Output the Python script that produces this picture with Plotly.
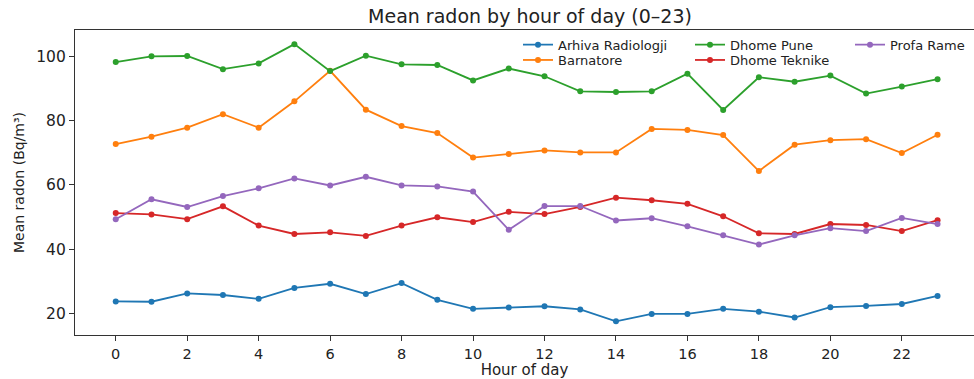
import plotly.graph_objects as go

hours = list(range(24))
series_names = ["Arhiva Radiologji", "Barnatore", "Dhome Pune", "Dhome Teknike", "Profa Rame"]
arhiva = [23.7, 23.6, 26.2, 25.7, 24.5, 27.9, 29.2, 26.0, 29.4, 24.2, 21.4, 21.8,
          22.2, 21.2, 17.5, 19.8, 19.8, 21.4, 20.5, 18.7, 21.9, 22.3, 22.9, 25.4]
barnatore = [72.7, 75.0, 77.8, 82.0, 77.8, 86.0, 95.5, 83.4, 78.3, 76.1, 68.5, 69.6,
             70.7, 70.1, 70.1, 77.4, 77.1, 75.5, 64.3, 72.5, 73.9, 74.2, 69.9, 75.6]
dhome_pune = [98.2, 100.0, 100.1, 96.0, 97.8, 103.8, 95.4, 100.2, 97.5, 97.3, 92.5, 96.2,
              93.8, 89.1, 88.9, 89.1, 94.6, 83.3, 93.5, 92.1, 94.0, 88.4, 90.6, 92.9]
dhome_teknike = [51.2, 50.8, 49.3, 53.3, 47.3, 44.7, 45.2, 44.1, 47.3, 49.9, 48.4, 51.6,
                 50.9, 53.1, 56.0, 55.2, 54.1, 50.2, 44.9, 44.7, 47.8, 47.5, 45.6, 49.0]
profa_rame = [49.3, 55.5, 53.1, 56.5, 58.9, 62.0, 59.8, 62.5, 59.8, 59.5, 57.9, 46.0,
              53.4, 53.4, 48.9, 49.6, 47.1, 44.3, 41.4, 44.3, 46.5, 45.6, 49.7, 47.8]
x_ticks = list(range(0, 23, 2))
y_ticks = [20, 40, 60, 80, 100]

colors = ["#1f77b4", "#ff7f0e", "#2ca02c", "#d62728", "#9467bd"]
values = [arhiva, barnatore, dhome_pune, dhome_teknike, profa_rame]
legend_ids = ["legend", "legend4", "legend2", "legend5", "legend3"]

FONT = "DejaVu Sans"
fig = go.Figure()
for name, vals, col, lg in zip(series_names, values, colors, legend_ids):
    fig.add_trace(go.Scatter(
        x=hours, y=vals, name=name, mode="lines+markers",
        line=dict(color=col, width=1.8),
        marker=dict(color=col, size=6),
        legend=lg, showlegend=True,
    ))

W, H = 974, 379
L, R, T, B = 75, 0, 30, 44
pw = W - L - R
ph = H - T - B

def px_x(x):
    return (x - L) / pw

def px_y(y):
    return (H - B - y) / ph

legend_common = dict(bgcolor="rgba(0,0,0,0)", borderwidth=0,
                     font=dict(family=FONT, size=13, color="#222"),
                     xanchor="left", yanchor="middle", itemwidth=30)

fig.update_layout(
    width=W, height=H,
    showlegend=True,
    margin=dict(l=L, r=R, t=T, b=B),
    paper_bgcolor="white", plot_bgcolor="white",
    font=dict(family=FONT, color="#222"),
    title=dict(text="Mean radon by hour of day (0–23)", x=530 / W, xref="container",
               xanchor="center", y=1 - 16 / H, yref="container", yanchor="middle",
               font=dict(family=FONT, size=19, color="#222")),
    xaxis=dict(range=[-1.14, 24.02], tickvals=x_ticks, ticks="outside", ticklen=5,
               tickcolor="#333", showline=True, linecolor="#333", linewidth=1.2,
               mirror=True, showgrid=False, zeroline=False,
               tickfont=dict(family=FONT, size=14.5, color="#222"),
               title=dict(text="Hour of day", font=dict(family=FONT, size=15, color="#222"), standoff=7)),
    yaxis=dict(range=[13.25, 108.2], tickvals=y_ticks, ticks="outside", ticklen=5,
               tickcolor="#333", showline=True, linecolor="#333", linewidth=1.2,
               mirror=False, showgrid=False, zeroline=False,
               tickfont=dict(family=FONT, size=15.5, color="#222"),
               title=dict(text="Mean radon (Bq/m³)", font=dict(family=FONT, size=14, color="#222"), standoff=8)),
    legend=dict(x=px_x(518), y=px_y(44.7), **legend_common),
    legend4=dict(x=px_x(518), y=px_y(60), **legend_common),
    legend2=dict(x=px_x(690), y=px_y(44.7), **legend_common),
    legend5=dict(x=px_x(690), y=px_y(60), **legend_common),
    legend3=dict(x=px_x(850), y=px_y(44.7), **legend_common),
)

fig.write_html("out.html")
